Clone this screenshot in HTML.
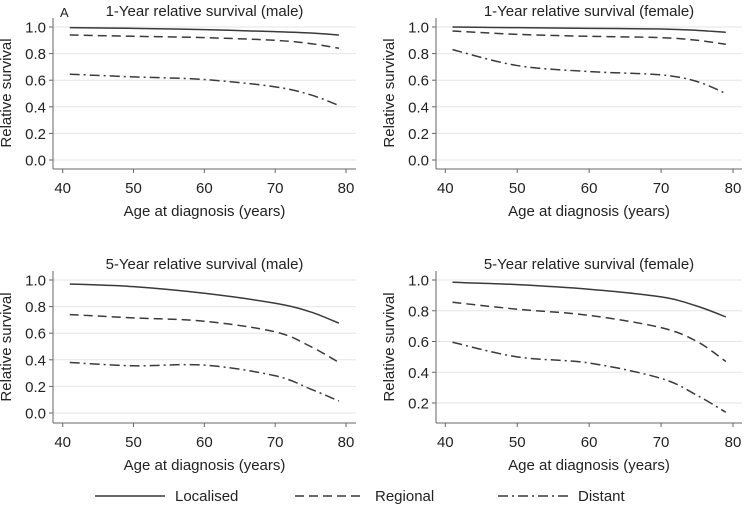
<!DOCTYPE html>
<html><head><meta charset="utf-8"><style>
body{margin:0;background:#fff;}
svg{display:block;font-family:"Liberation Sans",sans-serif;}
</style></head><body>
<svg id="c" width="744" height="507" viewBox="0 0 744 507"></svg>
<script>
const ages=[41,50,60,70,75,79];
const m1Loc=[0.995,0.99,0.98,0.965,0.955,0.94];
const m1Reg=[0.94,0.93,0.92,0.90,0.875,0.84];
const m1Dis=[0.645,0.625,0.605,0.55,0.49,0.41];
const f1Loc=[1.0,0.995,0.99,0.985,0.975,0.96];
const f1Reg=[0.97,0.945,0.93,0.92,0.90,0.87];
const f1Dis=[0.83,0.71,0.665,0.64,0.59,0.50];
const m5Loc=[0.97,0.95,0.90,0.825,0.76,0.675];
const m5Reg=[0.74,0.715,0.69,0.61,0.50,0.38];
const m5Dis=[0.38,0.355,0.36,0.28,0.18,0.09];
const f5Loc=[0.985,0.97,0.94,0.89,0.83,0.76];
const f5Reg=[0.855,0.81,0.77,0.69,0.60,0.47];
const f5Dis=[0.595,0.50,0.46,0.36,0.25,0.14];
const xTicks=[40,50,60,70,80];
const yTicksA=[0,0.2,0.4,0.6,0.8,1.0];
const yTicksB=[0.2,0.4,0.6,0.8,1.0];
const titles=["1-Year relative survival (male)","1-Year relative survival (female)","5-Year relative survival (male)","5-Year relative survival (female)"];
const legendLabels=["Localised","Regional","Distant"];

const NS="http://www.w3.org/2000/svg";
const svg=document.getElementById('c');
function el(t,a,p){const e=document.createElementNS(NS,t);for(const k in a)e.setAttribute(k,a[k]);(p||svg).appendChild(e);return e;}
const dashes=["none","9,5","10,4,2,4"];
const col="#3a3a3a";
function path(pts){let d="M"+pts[0][0]+","+pts[0][1];
 for(let i=0;i<pts.length-1;i++){const p0=pts[i-1]||pts[i],p1=pts[i],p2=pts[i+1],p3=pts[i+2]||p2;
  const c1=[p1[0]+(p2[0]-p0[0])/6,p1[1]+(p2[1]-p0[1])/6],c2=[p2[0]-(p3[0]-p1[0])/6,p2[1]-(p3[1]-p1[1])/6];
  d+=" C"+c1+" "+c2+" "+p2;}return d;}
const panels=[
 {ax:53,x40:62.7,x80:346,right:356,y1:27,y0:160,axY:169,top:8,ticks:yTicksA,series:[m1Loc,m1Reg,m1Dis],title:titles[0],name:"panel-1yr-male",ytx:11,yty:93},
 {ax:436,x40:445.3,x80:733,right:742,y1:27,y0:160,axY:169,top:8,ticks:yTicksA,series:[f1Loc,f1Reg,f1Dis],title:titles[1],name:"panel-1yr-female",ytx:394,yty:93},
 {ax:53,x40:62.7,x80:346,right:356,y1:280,y0:413,axY:423,top:261,ticks:yTicksA,series:[m5Loc,m5Reg,m5Dis],title:titles[2],name:"panel-5yr-male",ytx:11,yty:347},
 {ax:436,x40:445.3,x80:733,right:742,y1:280,y0:433.75,axY:423,top:261,ticks:yTicksB,series:[f5Loc,f5Reg,f5Dis],title:titles[3],name:"panel-5yr-female",ytx:394,yty:347}];
const names=["localised","regional","distant"];
panels.forEach((p,pi)=>{
 const g=el('g',{});
 
 
 const X=v=>p.x40+(v-40)*(p.x80-p.x40)/40, Y=v=>p.y0+(p.y1-p.y0)*v;
 const t=el('text',{x:(p.ax+p.right)/2,y:p.top+8,'font-size':15,'text-anchor':'middle',fill:'#222'},g);t.textContent=p.title;
 
 p.ticks.forEach(v=>{
  const gl=el('line',{x1:p.ax,x2:p.right,y1:Y(v),y2:Y(v),stroke:'#e6e6e6','stroke-width':1},g);
  
  el('line',{x1:p.ax-4,x2:p.ax,y1:Y(v),y2:Y(v),stroke:'#666'},g);
  const l=el('text',{x:p.ax-7,y:Y(v)+5.5,'font-size':15,'text-anchor':'end',fill:'#222'},g);l.textContent=v.toFixed(1);
  
 });
 xTicks.forEach(v=>{
  el('line',{x1:X(v),x2:X(v),y1:p.axY,y2:p.axY+4,stroke:'#666'},g);
  const l=el('text',{x:X(v),y:p.axY+24,'font-size':15,'text-anchor':'middle',fill:'#222'},g);l.textContent=v;
  
 });
 el('line',{x1:p.ax,x2:p.ax,y1:p.top+10,y2:p.axY,stroke:'#666'},g);
 el('line',{x1:p.ax,x2:p.right,y1:p.axY,y2:p.axY,stroke:'#666'},g);
 const xt=el('text',{x:(p.ax+p.right)/2,y:p.axY+47,'font-size':15,'text-anchor':'middle',fill:'#222'},g);xt.textContent="Age at diagnosis (years)";
 
 const yt=el('text',{x:0,y:0,'font-size':15,'text-anchor':'middle',fill:'#222',transform:`translate(${p.ytx},${p.yty}) rotate(-90)`},g);yt.textContent="Relative survival";
 
 p.series.forEach((s,si)=>{
  const pts=ages.map((a,i)=>[+X(a).toFixed(2),+Y(s[i]).toFixed(2)]);
  const pa=el('path',{d:path(pts),fill:'none',stroke:col,'stroke-width':1.5,'stroke-dasharray':dashes[si]},g);
  
 });
});
const a=el('text',{x:60,y:17,'font-size':13,fill:'#222'});a.textContent="A";

const lx=[95,295,498];
legendLabels.forEach((lab,i)=>{
 const g=el('g',{});
 
 
 el('line',{x1:lx[i],x2:lx[i]+70,y1:496,y2:496,stroke:col,'stroke-width':1.5,'stroke-dasharray':dashes[i]},g);
 const t=el('text',{x:lx[i]+80,y:501,'font-size':15,fill:'#222'},g);t.textContent=lab;
});
</script>
</body></html>
